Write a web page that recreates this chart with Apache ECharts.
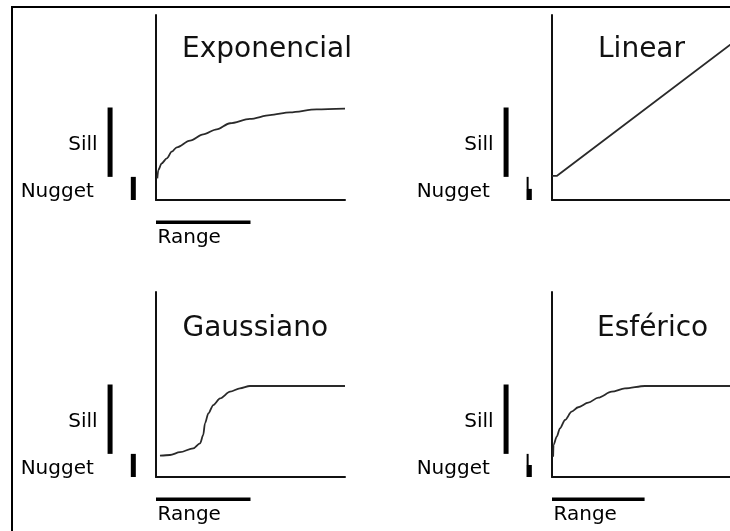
<!DOCTYPE html>
<html>
<head>
<meta charset="utf-8">
<script src="https://cdn.jsdelivr.net/npm/echarts@6/dist/echarts.min.js"></script>
<style>
html, body { margin: 0; padding: 0; background: #fff; }
#chart { width: 730px; height: 531px; }
</style>
</head>
<body>
<div id="chart"></div>
<script>
// variogram models, one panel each
const models = ['Exponencial', 'Linear', 'Gaussiano', 'Esférico']

// lag and semivariance (axis units)
const expLag = [0.7, 1.2, 3.0, 5.7, 8.3, 11, 18, 25, 32.1, 39.2, 49.7, 60.3, 70.9, 85, 100]
const expGamma = [11.7, 16.2, 19.8, 22.5, 26.1, 28.5, 32.1, 35.5, 38.2, 41.5, 43.8, 45.9, 47.4, 49, 49.4]
const linLag = [0, 2.5, 100]
const linGamma = [13, 13, 88.3]
const gauLag = [2.1, 7.4, 12.7, 19.7, 23.3, 25, 25.9, 27.7, 30.3, 33.9, 39.2, 44.4, 49.7, 100]
const gauGamma = [11.5, 11.9, 13.4, 15.5, 18.2, 22.7, 29, 34.4, 38.9, 42.5, 46.1, 47.9, 49.2, 49.2]
const sphLag = [0.6, 0.8, 2.5, 4.2, 6.9, 10.4, 13.9, 19.2, 24.5, 31.6, 38.6, 49.2, 100]
const sphGamma = [11, 17.3, 21.8, 26.3, 30.8, 35.3, 37.7, 40.2, 42.9, 46.1, 47.9, 49.2, 49.2]

// model parameters shown as bars beside each panel
const nugget = [12.5, 12.5, 12.5, 12.5]
const sill = [50, 50, 50, 50]
const range = [50, null, 50, 49]
// two panels draw the nugget bar stepped: thick only up to here
const nuggetStep = [null, 6, null, 6.5]

const curves = [
  [expLag, expGamma],
  [linLag, linGamma],
  [gauLag, gauGamma],
  [sphLag, sphGamma]
]

// right-hand panels are cut off by the picture edge
const grids = [
  { left: 156, top: 15, width: 189, height: 185 },
  { left: 552, top: 15, width: 178, height: 185 },
  { left: 156, top: 292, width: 189, height: 185 },
  { left: 552, top: 292, width: 178, height: 185 }
]
const xMax = [100, 94.2, 100, 94.2]
const titlePos = [[182, 35.5], [598, 35.5], [182.5, 315], [597, 315]]

// bar positions in axis units (left of / below the axes)
const sillX = -24.3
const nuggetX = -12
const rangeY = -12
const ink = '#111'
const font = 'DejaVu Sans'

function axis(i, max) {
  return {
    gridIndex: i,
    type: 'value',
    min: 0,
    max: max,
    axisLine: { show: true, onZero: false, lineStyle: { color: ink, width: 2 } },
    axisTick: { show: false },
    axisLabel: { show: false },
    splitLine: { show: false }
  }
}

// straight bars [x1, y1, x2, y2] drawn through the axes of panel i
function bars(i, data, width) {
  return {
    type: 'custom',
    xAxisIndex: i,
    yAxisIndex: i,
    data: data,
    encode: { x: [0, 2], y: [1, 3] },
    clip: false,
    silent: true,
    renderItem(params, api) {
      const p1 = api.coord([api.value(0), api.value(1)])
      const p2 = api.coord([api.value(2), api.value(3)])
      return {
        type: 'line',
        shape: { x1: p1[0], y1: p1[1], x2: p2[0], y2: p2[1] },
        style: { stroke: '#000', lineWidth: width, lineCap: 'butt' }
      }
    }
  }
}

const series = []
models.forEach((name, i) => {
  const [lag, gamma] = curves[i]
  series.push({
    name: name,
    type: 'line',
    xAxisIndex: i,
    yAxisIndex: i,
    data: lag.map((x, k) => [x, gamma[k]]),
    symbol: 'none',
    smooth: name == 'Linear' ? false : 0.3,
    smoothMonotone: 'x',
    silent: true,
    lineStyle: { color: '#2a2a2a', width: 1.8 }
  })
  const thick = [[sillX, nugget[i], sillX, sill[i]]]
  if (nuggetStep[i] != null) {
    thick.push([nuggetX, 0, nuggetX, nuggetStep[i]])
    series.push(bars(i, [[nuggetX - 0.9, 0, nuggetX - 0.9, nugget[i]]], 2))
  } else {
    thick.push([nuggetX, 0, nuggetX, nugget[i]])
  }
  series.push(bars(i, thick, 5))
  const labels = [
    {
      value: [sillX, (nugget[i] + sill[i]) / 2],
      label: { formatter: 'Sill', position: 'left', distance: 12, offset: [0, 3] }
    },
    {
      value: [nuggetX, nugget[i] / 2],
      label: { formatter: 'Nugget', position: 'left', distance: 39, offset: [0, 3.5] }
    }
  ]
  if (range[i] != null) {
    series.push(bars(i, [[0, rangeY, range[i], rangeY]], 3.5))
    labels.push({
      value: [0, rangeY],
      label: { formatter: 'Range', position: 'right', distance: 1, offset: [0, 16] }
    })
  }
  series.push({
    type: 'scatter',
    xAxisIndex: i,
    yAxisIndex: i,
    data: labels,
    symbolSize: 1,
    clip: false,
    silent: true,
    itemStyle: { color: 'rgba(0,0,0,0)', opacity: 1 },
    label: { show: true, color: '#000', fontFamily: font, fontSize: 20 }
  })
})

const myChart = echarts.init(document.getElementById('chart'))
myChart.setOption({
  animation: false,
  backgroundColor: '#fff',
  title: models.map((name, i) => ({
    text: name,
    left: titlePos[i][0],
    top: titlePos[i][1],
    padding: 0,
    textStyle: { color: ink, fontFamily: font, fontSize: 28, fontWeight: 'normal' }
  })),
  grid: grids,
  xAxis: grids.map((g, i) => axis(i, xMax[i])),
  yAxis: grids.map((g, i) => axis(i, 100)),
  graphic: [
    {
      type: 'rect',
      silent: true,
      shape: { x: 12, y: 7, width: 780, height: 580 },
      style: { fill: 'none', stroke: '#000', lineWidth: 2 }
    }
  ],
  series: series
})
</script>
</body>
</html>
